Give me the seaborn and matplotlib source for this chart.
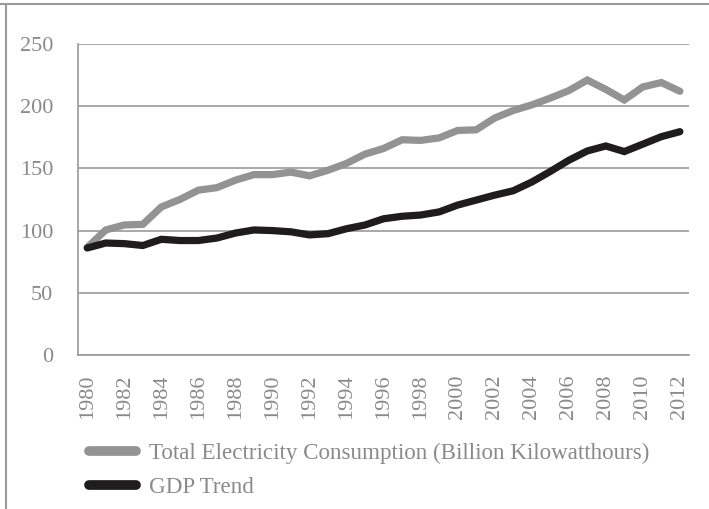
import matplotlib
matplotlib.use("Agg")
import matplotlib.pyplot as plt
from matplotlib.lines import Line2D
import seaborn as sns
import pandas as pd

years = list(range(1980, 2013))
electricity = [86.5, 100.5, 104.5, 105, 119, 125, 132.5, 134.5, 140.5, 145, 145, 147, 144,
               148.5, 154, 161.5, 166, 173, 172.5, 174.5, 180.5, 181, 190.5, 196.5, 201,
               206.5, 212.5, 221, 213.5, 205, 215.5, 219, 212]
gdp = [86, 90, 89.5, 88, 93, 92, 92, 94, 98, 100.5, 100, 99, 96.5, 97.5, 101.5, 104.5, 109.5,
       111.5, 112.5, 115, 120.5, 124.5, 128.5, 132, 139, 147.5, 156.5, 164, 168, 163.5,
       169.5, 175.5, 179.5]
series_names = ["Total Electricity Consumption (Billion Kilowatthours)", "GDP Trend"]
colors = ["#939393", "#1e1c1d"]
yticks = [0, 50, 100, 150, 200, 250]

sns.set_theme(style="white")
plt.rcParams["font.family"] = ["Liberation Serif", "DejaVu Serif"]

df = pd.DataFrame({
    "Year": [str(y) for y in years] * 2,
    "Value": electricity + gdp,
    "Series": [series_names[0]] * len(years) + [series_names[1]] * len(years),
})

fig = plt.figure(figsize=(7.09, 5.09), dpi=100)
ax = fig.add_axes([0.110, 0.3026, 0.862, 0.611])

sns.lineplot(data=df, x="Year", y="Value", hue="Series", palette=colors,
             linewidth=5.2, ax=ax, legend=False, sort=False)
for ln in ax.lines:
    ln.set_solid_capstyle("round")
    ln.set_solid_joinstyle("miter")

ax.set_xlim(-0.5, len(years) - 0.5)
ax.set_ylim(0, 250)
ax.set_yticks(yticks)
ax.set_xticks(range(0, len(years), 2))
ax.set_xticklabels([str(y) for y in years[::2]], rotation=90)
ax.set_xlabel("")
ax.set_ylabel("")
ax.yaxis.grid(True, color="#9a9a9a", linewidth=1.2)
ax.set_axisbelow(True)
for s in ["top", "right"]:
    ax.spines[s].set_visible(False)
for s in ["left", "bottom"]:
    ax.spines[s].set_color("#9a9a9a")
    ax.spines[s].set_linewidth(1.2)
ax.tick_params(axis="both", colors="#8a8a8a", labelsize=16, length=0)
ax.tick_params(axis="y", pad=18)
ax.tick_params(axis="x", pad=14)

handles = [Line2D([0], [0], color=c, linewidth=7, solid_capstyle="round") for c in colors]
leg = fig.legend(handles, series_names, loc="upper left",
                 bbox_to_anchor=(0.112, 1 - 434 / 509), bbox_transform=fig.transFigure,
                 frameon=False, fontsize=16.6, handlelength=2.05, handletextpad=0.55,
                 labelspacing=0.55, borderaxespad=0)
for t in leg.get_texts():
    t.set_color("#8a8a8a")

fig.add_artist(Line2D([0, 1], [1 - 4 / 509, 1 - 4 / 509], transform=fig.transFigure,
                      color="#9a9a9a", linewidth=1.5))
fig.add_artist(Line2D([6 / 709, 6 / 709], [0, 1 - 4 / 509], transform=fig.transFigure,
                      color="#9a9a9a", linewidth=1.5))

fig.savefig("out.png", dpi=100)
